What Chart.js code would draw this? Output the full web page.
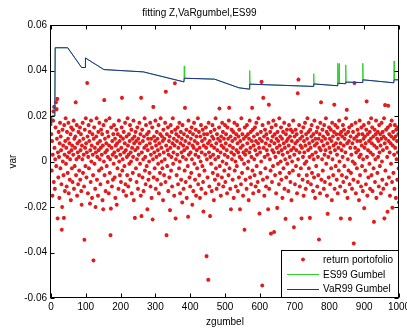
<!DOCTYPE html>
<html>
<head>
<meta charset="utf-8">
<script src="https://cdn.jsdelivr.net/npm/chart.js@4/dist/chart.umd.min.js"></script>
<style>
  html, body { margin: 0; padding: 0; background: #fff; }
</style>
</head>
<body>
<canvas id="chart" width="407" height="331"></canvas>
<script>
// return portofolio, one value per observation (x = 1..1000)
const retY = [
  0.012, -0.004, 0.009, -0.015, 0.003, 0.018, 0.022, -0.009, 0.024, 0.006, -0.012, 0.001, 0.015, 0.026, -0.002, 0.023, 0.010, 0.0275, -0.025, 0.004,
  -0.007, 0.013, 0.002, -0.016, 0.008, 0.017, -0.003, 0.011, 0.005, -0.010, -0.030, -0.020, 0.014, 0.000, 0.007, -0.006, -0.0248, 0.016, 0.003, -0.013,
  0.009, 0.019, -0.001, 0.006, -0.011, 0.013, 0.002, -0.005, 0.010, 0.017, -0.014, 0.004, 0.008, -0.008, 0.001, 0.012, -0.017, 0.015, 0.005, -0.003,
  0.007, -0.009, 0.014, 0.003, 0.018, -0.012, 0.010, -0.002, 0.006, 0.011, 0.026, -0.006, 0.001, 0.016, -0.015, 0.008, 0.004, -0.010, 0.013, 0.002,
  -0.004, 0.009, 0.015, -0.008, 0.005, 0.012, -0.013, -0.019, 0.007, 0.001, 0.017, -0.005, 0.010, 0.003, -0.011, -0.0344, 0.014, 0.006, -0.002, 0.019,
  0.008, -0.007, 0.004, 0.0345, 0.011, -0.014, 0.002, 0.016, -0.003, 0.009, 0.013, -0.0185, 0.005, -0.009, 0.018, 0.000, 0.007, -0.016, 0.012, 0.003,
  -0.006, -0.0435, 0.010, 0.015, -0.001, 0.006, -0.012, -0.020, 0.004, 0.011, 0.019, -0.008, 0.002, 0.008, -0.015, 0.013, 0.005, -0.004, 0.017, 0.001,
  0.009, -0.010, 0.006, 0.014, -0.003, 0.003, 0.012, -0.017, 0.007, -0.021, 0.016, 0.000, 0.027, -0.006, 0.010, 0.004, -0.013, 0.018, 0.008, -0.002,
  0.005, 0.013, -0.009, 0.002, 0.011, -0.014, 0.007, 0.019, -0.005, 0.001, -0.0324, -0.0207, 0.015, 0.006, -0.011, 0.009, 0.003, -0.008, 0.012, -0.001,
  0.016, 0.004, -0.007, 0.010, -0.016, 0.007, 0.002, 0.014, -0.019, 0.008, -0.003, 0.012, 0.005, -0.012, 0.018, 0.000, 0.009, -0.006, 0.003, 0.011,
  -0.009, 0.006, 0.015, 0.028, -0.004, 0.001, 0.010, -0.013, 0.013, 0.004, -0.002, 0.008, 0.017, -0.010, 0.005, -0.015, 0.011, 0.002, -0.006, 0.019,
  0.007, -0.011, 0.003, 0.012, -0.001, 0.009, 0.016, -0.008, 0.004, 0.000, 0.014, -0.014, 0.006, 0.010, -0.005, 0.002, 0.018, -0.017, 0.008, 0.011,
  -0.0248, 0.005, 0.013, -0.003, 0.009, -0.009, 0.001, 0.015, 0.006, -0.012, 0.010, 0.003, -0.006, 0.017, 0.008, -0.001, 0.012, -0.015, 0.028, -0.024,
  0.004, 0.014, -0.007, 0.009, 0.001, -0.013, 0.011, 0.006, 0.019, -0.004, 0.002, -0.010, 0.016, 0.007, -0.002, 0.012, -0.021, 0.005, 0.010, -0.008,
  0.013, 0.000, -0.005, 0.008, 0.017, -0.011, 0.003, 0.010, -0.016, 0.006, 0.015, -0.0255, 0.001, 0.024, -0.007, 0.011, 0.004, -0.003, 0.009, 0.018,
  -0.012, 0.007, 0.002, 0.013, -0.008, 0.010, 0.005, -0.001, 0.016, -0.014, 0.008, 0.003, -0.005, 0.012, 0.019, -0.010, 0.006, 0.000, 0.011, -0.003,
  0.009, -0.017, 0.014, 0.004, -0.006, 0.010, 0.001, 0.017, -0.009, 0.0307, 0.007, -0.0324, 0.012, -0.002, 0.005, 0.015, -0.013, 0.003, 0.009, -0.007,
  0.011, -0.0214, 0.006, 0.016, -0.004, 0.002, 0.013, -0.011, 0.008, 0.019, -0.001, 0.004, 0.010, -0.015, 0.007, 0.0344, 0.014, -0.025, 0.001, 0.012,
  -0.006, 0.009, 0.003, 0.015, -0.010, 0.006, 0.011, -0.003, 0.017, 0.000, -0.014, 0.008, 0.013, -0.008, 0.004, 0.010, -0.018, 0.016, 0.002, 0.007,
  -0.012, 0.012, 0.005, -0.004, 0.0236, 0.009, -0.009, 0.001, 0.014, -0.016, 0.006, 0.011, -0.002, -0.0243, 0.018, 0.003, 0.008, -0.007, 0.013, -0.011,
  0.004, 0.010, -0.005, 0.015, 0.001, -0.019, 0.007, 0.012, -0.013, 0.006, 0.017, -0.001, 0.009, -0.008, 0.003, 0.014, -0.015, 0.011, 0.005, -0.003,
  0.008, 0.019, -0.010, 0.002, 0.013, -0.006, 0.006, -0.016, 0.011, 0.000, 0.016, -0.012, 0.004, 0.009, -0.002, 0.014, -0.009, -0.022, 0.007, 0.012,
  -0.004, 0.010, 0.003, -0.014, 0.015, 0.006, -0.0416, 0.001, 0.012, -0.007, 0.008, -0.052, 0.017, 0.004, -0.011, 0.009, -0.024, 0.002, 0.013, -0.001,
  0.007, -0.013, 0.011, 0.016, -0.005, 0.003, 0.010, -0.017, 0.006, 0.014, -0.008, 0.001, 0.019, -0.003, 0.008, -0.012, 0.012, 0.005, -0.006, 0.010,
  0.002, -0.010, 0.015, 0.0233, -0.002, 0.009, 0.004, -0.015, 0.011, 0.007, -0.007, 0.017, 0.000, 0.013, -0.011, 0.006, 0.010, -0.004, 0.003, 0.016,
  -0.009, 0.008, 0.012, -0.001, 0.005, -0.014, 0.015, 0.002, 0.010, -0.006, 0.018, 0.0236, -0.003, 0.007, -0.012, 0.011, -0.021, 0.004, 0.014, 0.001,
  0.009, -0.008, 0.006, 0.013, -0.016, 0.003, 0.017, -0.004, 0.010, 0.000, -0.011, 0.012, 0.005, -0.002, 0.016, 0.008, -0.013, 0.004, 0.011, -0.007,
  0.014, 0.002, -0.021, 0.009, 0.006, -0.010, 0.019, 0.001, -0.005, 0.012, 0.007, -0.015, 0.004, 0.010, -0.001, -0.030, 0.015, 0.003, -0.008, 0.011,
  0.005, -0.012, 0.016, 0.008, -0.003, 0.012, 0.000, -0.017, 0.010, 0.004, 0.018, -0.007, 0.006, 0.013, -0.010, 0.002, 0.009, 0.0236, -0.004, 0.014,
  -0.014, 0.007, 0.011, 0.001, -0.006, 0.015, 0.005, -0.011, 0.009, 0.017, -0.002, 0.003, 0.012, -0.009, 0.008, 0.019, -0.013, 0.006, -0.0229, 0.010,
  0.004, -0.005, 0.013, 0.000, 0.035, 0.009, -0.0545, 0.016, -0.008, 0.028, 0.006, 0.011, -0.015, 0.002, 0.014, -0.003, 0.008, -0.011, 0.012, 0.005,
  -0.007, 0.010, 0.003, -0.021, 0.017, 0.025, -0.012, 0.007, 0.001, 0.013, -0.004, -0.0317, 0.009, 0.015, -0.009, 0.005, 0.011, -0.002, 0.018, 0.004,
  -0.031, 0.008, 0.012, -0.006, 0.002, 0.016, -0.014, 0.010, 0.006, -0.0204, 0.013, -0.001, 0.009, 0.004, -0.010, 0.019, 0.007, -0.005, 0.011, 0.000,
  0.015, -0.008, 0.005, 0.010, -0.016, 0.003, 0.013, -0.003, 0.008, 0.017, -0.012, 0.006, 0.001, -0.0252, 0.012, -0.007, 0.009, 0.014, -0.001, 0.004,
  0.010, -0.013, 0.007, 0.016, -0.005, 0.002, 0.011, -0.009, 0.014, 0.005, -0.017, 0.009, 0.000, 0.013, -0.004, 0.018, 0.006, -0.0289, 0.003, 0.011,
  -0.010, 0.008, 0.014, -0.002, 0.005, 0.012, -0.014, 0.009, 0.030, 0.001, 0.036, -0.006, 0.016, 0.004, -0.011, 0.010, 0.007, -0.003, 0.013, -0.025,
  0.006, 0.011, -0.008, 0.002, 0.015, -0.015, 0.009, 0.004, -0.001, 0.017, 0.007, -0.012, 0.012, 0.000, -0.006, 0.010, 0.019, -0.009, 0.005, 0.013,
  -0.003, 0.008, 0.002, -0.0248, 0.014, 0.006, -0.010, 0.011, 0.016, -0.005, 0.003, 0.009, -0.013, 0.012, 0.001, -0.007, 0.018, 0.007, -0.016, 0.010,
  0.004, -0.002, 0.013, 0.008, -0.011, 0.015, 0.002, -0.006, 0.010, -0.0343, 0.006, 0.012, -0.014, 0.017, 0.005, 0.026, -0.008, 0.009, 0.001, 0.014,
  -0.004, 0.011, 0.007, -0.012, 0.016, 0.003, -0.009, 0.010, 0.005, 0.019, -0.001, 0.013, -0.015, 0.008, -0.023, 0.012, 0.002, -0.007, 0.015, 0.006,
  0.010, -0.010, 0.004, 0.014, -0.003, 0.009, -0.017, 0.017, 0.001, 0.011, -0.006, 0.007, 0.013, 0.025, -0.012, 0.005, 0.016, -0.002, 0.008, 0.012,
  -0.008, 0.003, 0.015, -0.014, 0.010, 0.006, -0.004, 0.018, 0.000, 0.012, -0.011, 0.008, -0.025, 0.013, 0.005, -0.006, 0.011, 0.002, 0.016, -0.009,
  0.007, 0.014, -0.002, 0.010, -0.013, 0.004, 0.012, 0.019, -0.007, 0.0227, 0.008, -0.016, 0.001, 0.013, -0.004, 0.009, 0.015, -0.010, -0.0252, 0.006,
  0.011, -0.005, 0.003, 0.016, -0.012, 0.008, 0.000, 0.013, -0.008, -0.036, 0.010, 0.0345, -0.001, 0.006, 0.017, -0.014, 0.004, 0.011, -0.003, 0.009,
  0.014, -0.009, 0.005, 0.012, -0.017, 0.002, 0.018, -0.006, 0.009, 0.003, -0.011, 0.015, 0.007, -0.002, 0.012, -0.013, 0.001, 0.010, 0.016, -0.0205,
  0.006, 0.011, -0.004, 0.008, -0.010, 0.014, 0.0264, 0.002, -0.015, 0.012, 0.005, -0.007, 0.017, 0.009, -0.001, 0.013, -0.012, 0.004, 0.010, 0.019,
  -0.006, 0.008, 0.015, -0.013, 0.003, 0.011, -0.003, -0.0265, 0.007, 0.014, -0.009, 0.001, 0.012, 0.018, -0.016, 0.006, 0.010, -0.005, 0.013, 0.002,
  0.009, -0.011, 0.016, 0.004, -0.002, 0.012, 0.007, -0.014, 0.010, 0.017, 0.000, -0.008, 0.013, 0.005, -0.012, 0.011, 0.019, -0.025, 0.008, 0.0248,
  -0.004, 0.010, 0.014, -0.010, 0.006, 0.002, -0.0221, 0.015, 0.0245, 0.009, -0.007, 0.012, 0.004, -0.015, 0.016, 0.008, -0.001, 0.011, 0.018, -0.009,
  -0.0203, 0.007, 0.013, -0.005, 0.010, 0.003, -0.012, 0.016, 0.006, 0.011, -0.016, 0.014, 0.001, 0.009, -0.008, 0.015, 0.004, 0.012, -0.003, -0.018
];

// VaR99 Gumbel breakpoints
const varX = [1, 2, 11, 12, 48, 88, 98, 99, 152, 265, 382, 383, 470, 540, 570, 571, 754, 755, 823, 824, 846, 847, 895, 896, 985, 986, 1000];
const varY = [0.0158, 0.0200, 0.0200, 0.0500, 0.0500, 0.0413, 0.0413, 0.0455, 0.0404, 0.0394, 0.0350, 0.0366, 0.0362, 0.0324, 0.0318, 0.0340,
  0.0330, 0.0341, 0.0333, 0.0344, 0.0342, 0.0349, 0.0347, 0.0359, 0.0346, 0.0359, 0.0359];

// ES99 Gumbel breakpoints (same path plus the spikes)
const esX = [1, 2, 11, 12, 48, 88, 98, 99, 152, 265, 382, 383, 384, 470, 540, 570, 571, 572, 754, 755, 756, 823, 824, 825, 827, 828, 829,
  846, 847, 848, 895, 896, 897, 985, 986, 987, 1000];
const esY = [0.0158, 0.0200, 0.0200, 0.0500, 0.0500, 0.0413, 0.0413, 0.0455, 0.0404, 0.0394, 0.0350, 0.0420, 0.0366, 0.0362, 0.0324,
  0.0318, 0.0400, 0.0340, 0.0330, 0.0386, 0.0341, 0.0333, 0.0432, 0.0344, 0.0344, 0.0430, 0.0344,
  0.0342, 0.0425, 0.0349, 0.0347, 0.0432, 0.0359, 0.0346, 0.0442, 0.0359, 0.0359];

const xTicks = [0, 100, 200, 300, 400, 500, 600, 700, 800, 900, 1000];
const yTicks = [-0.06, -0.04, -0.02, 0, 0.02, 0.04, 0.06];

const FONT = '"Liberation Sans", Arial, sans-serif';

// MATLAB-style box with inward tick marks on all four sides
const frame = {
  id: 'frame',
  afterDatasetsDraw(chart) {
    const { ctx, chartArea: a, scales } = chart;
    const L = Math.round(a.left) - 0.5, R = Math.round(a.right) - 0.5;
    const T = Math.round(a.top) + 0.5, B = Math.round(a.bottom) - 0.5;
    ctx.save();
    ctx.strokeStyle = '#000';
    ctx.lineWidth = 1;
    ctx.strokeRect(L, T, R - L, B - T);
    ctx.beginPath();
    xTicks.forEach(v => {
      const px = Math.round(scales.x.getPixelForValue(v)) + 0.5;
      ctx.moveTo(px, B); ctx.lineTo(px, B - 4);
      ctx.moveTo(px, T); ctx.lineTo(px, T + 4);
    });
    yTicks.forEach(v => {
      const py = Math.round(scales.y.getPixelForValue(v)) + 0.5;
      ctx.moveTo(L, py); ctx.lineTo(L + 4, py);
      ctx.moveTo(R, py); ctx.lineTo(R - 4, py);
    });
    ctx.stroke();
    ctx.restore();
  }
};

// legend box in the lower right corner of the axes
const legendBox = {
  id: 'legendBox',
  afterDraw(chart) {
    const { ctx, chartArea: a } = chart;
    const w = 118, h = 48;
    const x0 = Math.round(a.right) - w, y0 = Math.round(a.bottom) - h;
    ctx.save();
    ctx.fillStyle = '#fff';
    ctx.fillRect(x0, y0, w, h);
    ctx.strokeStyle = '#000';
    ctx.lineWidth = 1;
    ctx.strokeRect(x0 + 0.5, y0 + 0.5, w - 1, h - 1);
    ctx.font = '10px ' + FONT;
    ctx.textBaseline = 'middle';
    ctx.textAlign = 'left';
    chart.data.datasets.forEach((ds, i) => {
      const y = y0 + 9.5 + i * 14.8;
      if (ds.showLine) {
        ctx.strokeStyle = ds.borderColor;
        ctx.lineWidth = 1;
        ctx.beginPath();
        ctx.moveTo(x0 + 6, Math.round(y) + 0.5);
        ctx.lineTo(x0 + 38, Math.round(y) + 0.5);
        ctx.stroke();
      } else {
        ctx.strokeStyle = ds.borderColor;
        ctx.fillStyle = ds.borderColor;
        ctx.lineWidth = ds.borderWidth;
        Chart.helpers.drawPoint(ctx, { pointStyle: 'star', radius: ds.pointRadius, rotation: 0, borderWidth: ds.borderWidth }, x0 + 22, y);
      }
      ctx.fillStyle = '#000';
      ctx.fillText(ds.label, x0 + 42, y + 0.5);
    });
    ctx.restore();
  }
};

new Chart(document.getElementById('chart'), {
  type: 'scatter',
  data: {
    datasets: [
      {
        label: 'return portofolio',
        data: retY.map((y, i) => ({ x: i + 1, y })),
        pointStyle: 'star',
        pointRadius: 2,
        borderColor: '#e01c1c',
        backgroundColor: '#e01c1c',
        borderWidth: 1.2,
        showLine: false,
        order: 3
      },
      {
        label: 'ES99 Gumbel',
        data: esX.map((x, i) => ({ x, y: esY[i] })),
        showLine: true,
        borderColor: '#2ed02e',
        borderWidth: 1,
        pointRadius: 0,
        tension: 0,
        order: 2
      },
      {
        label: 'VaR99 Gumbel',
        data: varX.map((x, i) => ({ x, y: varY[i] })),
        showLine: true,
        borderColor: '#2828a0',
        borderWidth: 1,
        pointRadius: 0,
        tension: 0,
        order: 1
      }
    ]
  },
  options: {
    responsive: false,
    animation: false,
    events: [],
    layout: { padding: { top: 0, right: 8, bottom: 0, left: 0 } },
    plugins: {
      legend: { display: false },
      tooltip: { enabled: false },
      title: {
        display: true,
        text: 'fitting Z,VaRgumbel,ES99',
        color: '#000',
        font: { family: FONT, size: 10, weight: 'normal' },
        padding: { top: 7, bottom: 6 }
      }
    },
    scales: {
      x: {
        type: 'linear',
        min: 0,
        max: 1000,
        grid: { display: false, drawTicks: false, tickLength: 0 },
        border: { display: false },
        afterBuildTicks: s => { s.ticks = xTicks.map(v => ({ value: v })); },
        afterFit: s => { s.height = 33; s.paddingLeft = 0; s.paddingRight = 0; },
        ticks: {
          autoSkip: false,
          maxRotation: 0,
          padding: 3,
          color: '#000',
          font: { family: FONT, size: 10 },
          callback: v => String(v)
        },
        title: {
          display: true,
          text: 'zgumbel',
          color: '#000',
          font: { family: FONT, size: 10 },
          padding: { top: 0, bottom: 3 }
        }
      },
      y: {
        type: 'linear',
        min: -0.06,
        max: 0.06,
        grid: { display: false, drawTicks: false, tickLength: 0 },
        border: { display: false },
        afterBuildTicks: s => { s.ticks = yTicks.map(v => ({ value: v })); },
        afterFit: s => { s.width = 51; s.paddingTop = 0; s.paddingBottom = 0; },
        ticks: {
          padding: 4,
          color: '#000',
          font: { family: FONT, size: 10 },
          callback: v => String(+v.toFixed(2))
        },
        title: {
          display: true,
          text: 'var',
          color: '#000',
          font: { family: FONT, size: 10 },
          padding: { top: 7, bottom: 0 }
        }
      }
    }
  },
  plugins: [frame, legendBox]
});
</script>
</body>
</html>
